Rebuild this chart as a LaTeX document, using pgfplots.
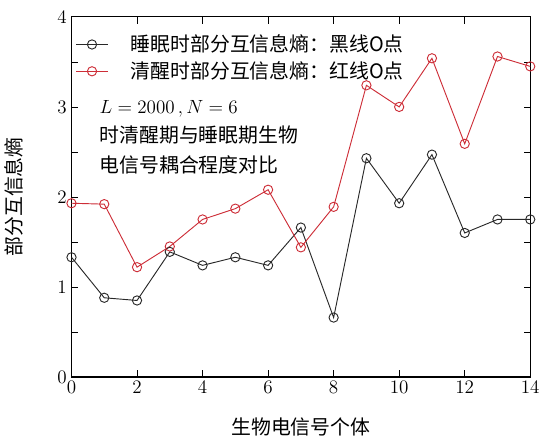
\documentclass[border=0pt]{standalone}
\usepackage{fontspec}
\usepackage{pgfplots}
\pgfplotsset{compat=1.18}
\newfontfamily\cjk{Noto Sans CJK SC}
\definecolor{myred}{RGB}{205,45,55}
\definecolor{myblack}{RGB}{40,40,40}
\begin{document}
\begin{tikzpicture}
\begin{axis}[
  name=ax,
  scale only axis,
  width=346.5pt, height=272pt,
  xmin=0, xmax=14, ymin=0, ymax=4,
  xtick={0,2,...,14}, ytick={0,1,2,3,4},
  minor ytick={0.5,1.5,2.5,3.5},
  tick align=inside,
  major tick length=5pt, minor tick length=5pt,
  tick style={black, line width=0.6pt},
  axis line style={black, line width=0.8pt},
  ticklabel style={font=\fontsize{14}{16}\selectfont},
  xlabel={\cjk 生物电信号个体},
  ylabel={\cjk 部分互信息熵},
  label style={font=\fontsize{15}{17}\selectfont},
  xlabel style={at={(axis description cs:0.5,-0.14)}, anchor=center},
  ylabel style={at={(axis description cs:-0.125,0.5)}, anchor=center},
  legend style={draw=none, fill=none, at={(0.0,0.965)}, anchor=north west, font=\fontsize{15}{17}\selectfont, row sep=2pt},
  legend cell align=left,
  legend image code/.code={\draw[mark repeat=2,mark phase=2] plot coordinates {(0cm,0cm) (0.42cm,0cm) (0.84cm,0cm)};},
]
\addplot[myblack, line width=0.7pt, mark=o, mark size=3.5pt, mark options={line width=0.7pt}] coordinates {
(0,1.33) (1,0.88) (2,0.85) (3,1.39) (4,1.24) (5,1.33) (6,1.24) (7,1.66)
(8,0.66) (9,2.43) (10,1.93) (11,2.47) (12,1.60) (13,1.75) (14,1.75)};
\addlegendentry{\hspace{15pt}\cjk 睡眠时部分互信息熵：黑线O点}
\addplot[myred, line width=0.7pt, mark=o, mark size=3.5pt, mark options={line width=0.7pt}] coordinates {
(0,1.93) (1,1.92) (2,1.22) (3,1.45) (4,1.75) (5,1.87) (6,2.08) (7,1.44)
(8,1.89) (9,3.24) (10,3.00) (11,3.54) (12,2.59) (13,3.56) (14,3.45)};
\addlegendentry{\hspace{15pt}\cjk 清醒时部分互信息熵：红线O点}
\node[anchor=north west, align=left, font=\fontsize{15}{22.5}\selectfont, inner sep=0pt] at (axis cs:0.85,3.08)
  {$L=2000\,,N=6$\\ {\cjk 时清醒期与睡眠期生物}\\ {\cjk 电信号耦合程度对比}};
\end{axis}
\path[use as bounding box] ([xshift=-54pt,yshift=-45pt]ax.south west) rectangle ([xshift=7.5pt,yshift=12.75pt]ax.north east);
\end{tikzpicture}
\end{document}
